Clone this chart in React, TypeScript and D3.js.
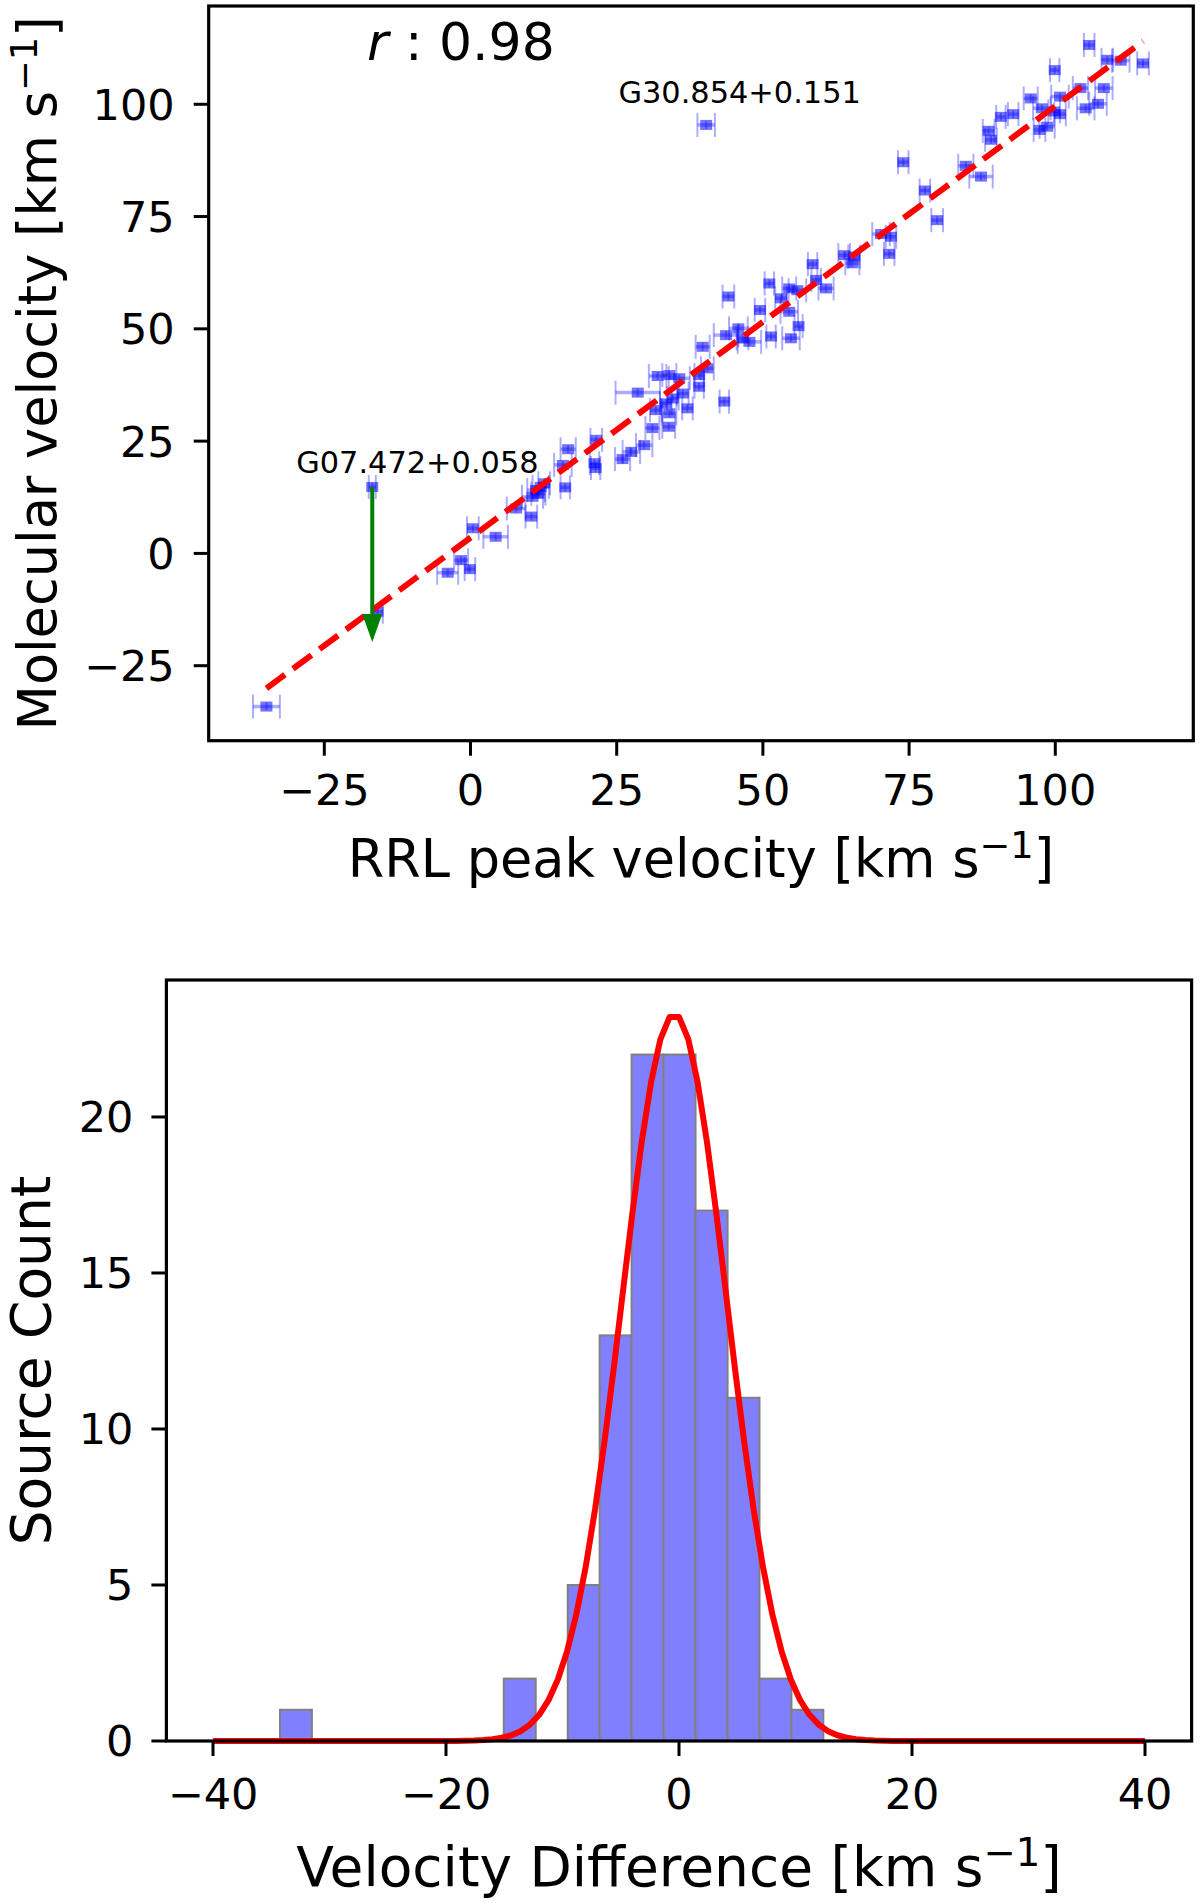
import * as d3 from 'd3';

// ── Scatter: RRL peak velocity vs molecular velocity (km/s) ─────────────
const rrlVel = [
  -34.9, -16.8, -15.9, -3.9, -1.6, -0.1, 0.4, 4.3, 7.8, 10.4, 10.6, 11.2, 11.6, 12.0, 12.6,
  16.2, 15.8, 16.7, 21.5, 21.2, 21.4, 26.0, 27.5, 29.7, 28.6, 31.1, 33.9, 31.7, 34.0, 37.1,
  33.4, 34.6, 36.3, 32.0, 34.0, 35.7, 39.1, 39.1, 40.5, 43.4, 39.7, 43.7, 45.8, 46.5, 47.7,
  44.1, 49.5, 51.4, 51.1, 53.1, 54.5, 54.8, 56.1, 54.5, 55.9, 59.1, 58.5, 60.8, 63.9, 65.6,
  65.3, 70.2, 71.9, 71.6, 74.0, 77.7, 79.8, 84.7, 87.3, 88.6, 89.0, 90.7, 92.8, 95.8, 97.7,
  99.8, 100.8, 97.3, 98.6, 99.9, 100.8, 104.3, 105.2, 105.8, 107.3, 108.3, 108.9, 111.2, 115.0,
  40.3,
];
const molVel = [
  -34.1, 14.8, -13.0, -4.3, -1.5, -3.5, 5.6, 3.7, 10.0, 8.2, 12.6, 14.1, 13.3, 14.8, 15.6,
  14.7, 19.7, 23.2, 25.3, 20.1, 19.0, 21.0, 22.6, 24.1, 35.8, 27.9, 28.2, 31.9, 31.2, 32.3,
  33.4, 34.5, 35.6, 39.5, 39.7, 39.0, 37.1, 39.7, 41.2, 33.8, 46.0, 48.6, 50.1, 47.9, 47.1,
  57.2, 54.2, 48.3, 60.1, 56.8, 53.8, 47.9, 50.6, 59.0, 58.6, 60.9, 64.4, 59.0, 66.4, 66.1,
  64.6, 71.1, 70.5, 66.7, 87.1, 80.8, 74.2, 86.3, 83.9, 94.1, 92.1, 97.2, 97.8, 101.3, 99.1,
  98.4, 97.8, 94.3, 95.0, 107.6, 101.7, 103.6, 99.1, 113.2, 100.1, 103.6, 109.9, 109.7, 109.1,
  95.4,
];
const rrlErr = [
  2.3, 0.6, 0.9, 1.8, 1.2, 0.9, 1.0, 2.1, 1.6, 1.0, 1.8, 1.5, 1.2, 1.4, 1.0,
  0.8, 1.5, 1.3, 1.0, 0.8, 0.8, 1.3, 1.5, 1.4, 3.8, 1.2, 1.1, 1.0, 1.2, 0.9,
  1.0, 1.0, 1.0, 1.5, 1.2, 1.8, 0.8, 0.8, 1.1, 0.8, 1.2, 2.1, 1.6, 1.0, 2.0,
  1.0, 0.9, 0.8, 0.8, 1.0, 1.5, 1.5, 0.7, 1.2, 1.5, 0.8, 0.8, 1.3, 1.0, 1.0,
  1.2, 1.5, 0.9, 0.9, 0.9, 0.9, 1.0, 1.3, 2.0, 1.0, 1.0, 0.8, 0.9, 1.2, 1.5,
  1.0, 1.0, 1.0, 1.3, 0.8, 1.5, 1.3, 1.5, 0.9, 1.5, 1.5, 1.0, 1.5, 1.0,
  1.5,
];
const fitSlope = 0.961;
const fitIntercept = 3.5;
const corrLabel = '0.98';
const annotations = [
  { label: 'G30.854+0.151', x: 25.3, y: 100.2 },
  { label: 'G07.472+0.058', x: -29.8, y: 18.0 },
];
const arrowFrom: [number, number] = [-16.8, 14.8];
const arrowTo: [number, number] = [-16.8, -19.7];
const scatterTicks = [-25, 0, 25, 50, 75, 100];

// ── Histogram of velocity differences ───────────────────────────────────
const binEdges = [
  -34.25, -31.51, -28.76, -26.02, -23.27, -20.53, -17.79, -15.04, -12.3, -9.55,
  -6.81, -4.07, -1.32, 1.42, 4.17, 6.91, 9.65, 12.39,
];
const binCounts = [1, 0, 0, 0, 0, 0, 0, 2, 0, 5, 13, 22, 22, 17, 11, 2, 1];
const gaussAmp = 23.3;
const gaussMean = -0.4;
const gaussSigma = 4.5;
const gaussRange: [number, number] = [-40, 40];
const histXTicks = [-40, -20, 0, 20, 40];
const histYTicks = [0, 5, 10, 15, 20];

const FONT = '"DejaVu Sans", sans-serif';
const TICK_FS = 43;
const fmt = (n: number) => (n < 0 ? `\u2212${-n}` : `${n}`);

function Unit({ size }: { size: number }) {
  // "[km s^-1]" with a mathtext-like superscript
  const sup = size * 0.7;
  const lift = size * 0.36;
  return (
    <>
      <tspan>{' [km s'}</tspan>
      <tspan fontSize={sup} dy={-lift}>{'\u22121'}</tspan>
      <tspan dy={lift}>]</tspan>
    </>
  );
}

export default function App() {
  // top panel frame
  const T = { left: 208.7, right: 1193.3, top: 6, bottom: 740.7 };
  const x = d3.scaleLinear([-44.77, 123.6], [T.left, T.right]);
  const y = d3.scaleLinear([-41.7, 121.88], [T.bottom, T.top]);

  // bottom panel frame
  const B = { left: 166.4, right: 1191.6, top: 980, bottom: 1741 };
  const hx = d3.scaleLinear([-44, 44], [B.left, B.right]);
  const hy = d3.scaleLinear([0, 24.39], [B.bottom, B.top]);

  const [xMin, xMax] = d3.extent(rrlVel) as [number, number];
  const fitLine = d3.line<number>().x(v => x(v)).y(v => y(fitSlope * v + fitIntercept));

  const gaussPts = d3.range(gaussRange[0], gaussRange[1] + 0.001, 0.8).map(v => [
    v,
    gaussAmp * Math.exp(-((v - gaussMean) ** 2) / (2 * gaussSigma ** 2)),
  ]);
  const gaussLine = d3.line<number[]>().x(d => hx(d[0])).y(d => hy(d[1]));

  const cap = 12;
  const tickLen = 15;

  // arrow geometry
  const ax = x(arrowFrom[0]);
  const ay0 = y(arrowFrom[1]);
  const ay1 = y(arrowTo[1]);
  const headLen = 28;
  const headW = 10;

  return (
    <svg
      width={1200}
      height={1903}
      style={{ position: 'absolute', left: 0, top: 0, background: '#fff' }}
      fontFamily={FONT}
    >
      <rect width={1200} height={1903} fill="#fff" />

      {/* ── Scatter panel ─────────────────────────────────────────── */}
      <g>
        {/* error bars */}
        {rrlVel.map((v, i) => {
          const cx = x(v), cy = y(molVel[i]);
          const x0 = x(v - rrlErr[i]), x1 = x(v + rrlErr[i]);
          return (
            <g key={`e${i}`} stroke="blue" strokeOpacity={0.32} strokeWidth={2}>
              <line x1={x0} x2={x1} y1={cy} y2={cy} strokeWidth={3.5} />
              <line x1={x0} x2={x0} y1={cy - cap} y2={cy + cap} />
              <line x1={x1} x2={x1} y1={cy - cap} y2={cy + cap} />
              <line x1={cx} x2={cx} y1={cy - 4} y2={cy + 4} />
            </g>
          );
        })}
        {/* markers */}
        {rrlVel.map((v, i) => (
          <rect
            key={`m${i}`}
            x={x(v) - 6}
            y={y(molVel[i]) - 5}
            width={12}
            height={10}
            fill="blue"
            fillOpacity={0.55}
          />
        ))}

        {/* fit line */}
        <path
          d={fitLine([xMin, xMax]) ?? ''}
          fill="none"
          stroke="red"
          strokeWidth={6}
          strokeDasharray="23 10"
        />

        {/* arrow */}
        <rect x={ax - 2} y={ay0} width={4} height={ay1 - ay0 - headLen} fill="green" />
        <path
          d={`M${ax - headW},${ay1 - headLen} L${ax + headW},${ay1 - headLen} L${ax},${ay1} Z`}
          fill="green"
        />

        {/* annotations */}
        {annotations.map(a => (
          <text key={a.label} x={x(a.x)} y={y(a.y)} fontSize={30.4} fill="#000">
            {a.label}
          </text>
        ))}
        <text x={367} y={60} fontSize={52} fill="#000">
          <tspan fontStyle="italic">r</tspan>
          <tspan>{` : ${corrLabel}`}</tspan>
        </text>

        {/* frame */}
        <rect
          x={T.left}
          y={T.top}
          width={T.right - T.left}
          height={T.bottom - T.top}
          fill="none"
          stroke="#000"
          strokeWidth={3.2}
        />

        {/* x ticks */}
        {scatterTicks.map(t => (
          <g key={`tx${t}`}>
            <line x1={x(t)} x2={x(t)} y1={T.bottom} y2={T.bottom + tickLen} stroke="#000" strokeWidth={3} />
            <text x={x(t)} y={805} textAnchor="middle" fontSize={TICK_FS}>{fmt(t)}</text>
          </g>
        ))}
        {/* y ticks */}
        {scatterTicks.map(t => (
          <g key={`ty${t}`}>
            <line x1={T.left - tickLen} x2={T.left} y1={y(t)} y2={y(t)} stroke="#000" strokeWidth={3} />
            <text x={T.left - 34} y={y(t)} dy="0.36em" textAnchor="end" fontSize={TICK_FS}>{fmt(t)}</text>
          </g>
        ))}

        <text x={(T.left + T.right) / 2} y={877} textAnchor="middle" fontSize={52.5}>
          RRL peak velocity<Unit size={52.5} />
        </text>
        <text
          transform={`translate(56,${(T.top + T.bottom) / 2}) rotate(-90)`}
          textAnchor="middle"
          fontSize={52.5}
        >
          Molecular velocity<Unit size={52.5} />
        </text>
      </g>

      {/* ── Histogram panel ───────────────────────────────────────── */}
      <g>
        {binCounts.map((c, i) =>
          c > 0 ? (
            <rect
              key={`b${i}`}
              x={hx(binEdges[i])}
              y={hy(c)}
              width={hx(binEdges[i + 1]) - hx(binEdges[i])}
              height={hy(0) - hy(c)}
              fill="#8080ff"
              stroke="#808080"
              strokeWidth={2}
            />
          ) : null,
        )}

        <path d={gaussLine(gaussPts) ?? ''} fill="none" stroke="red" strokeWidth={6} strokeLinejoin="round" />

        <rect
          x={B.left}
          y={B.top}
          width={B.right - B.left}
          height={B.bottom - B.top}
          fill="none"
          stroke="#000"
          strokeWidth={3.2}
        />

        {histXTicks.map(t => (
          <g key={`hx${t}`}>
            <line x1={hx(t)} x2={hx(t)} y1={B.bottom} y2={B.bottom + tickLen} stroke="#000" strokeWidth={3} />
            <text x={hx(t)} y={1809} textAnchor="middle" fontSize={TICK_FS}>{fmt(t)}</text>
          </g>
        ))}
        {histYTicks.map(t => (
          <g key={`hy${t}`}>
            <line x1={B.left - tickLen} x2={B.left} y1={hy(t)} y2={hy(t)} stroke="#000" strokeWidth={3} />
            <text x={B.left - 33} y={hy(t)} dy="0.36em" textAnchor="end" fontSize={TICK_FS}>{fmt(t)}</text>
          </g>
        ))}

        <text x={(B.left + B.right) / 2} y={1886} textAnchor="middle" fontSize={55}>
          Velocity Difference<Unit size={55} />
        </text>
        <text
          transform={`translate(50,${(B.top + B.bottom) / 2}) rotate(-90)`}
          textAnchor="middle"
          fontSize={55}
        >
          Source Count
        </text>
      </g>
    </svg>
  );
}
